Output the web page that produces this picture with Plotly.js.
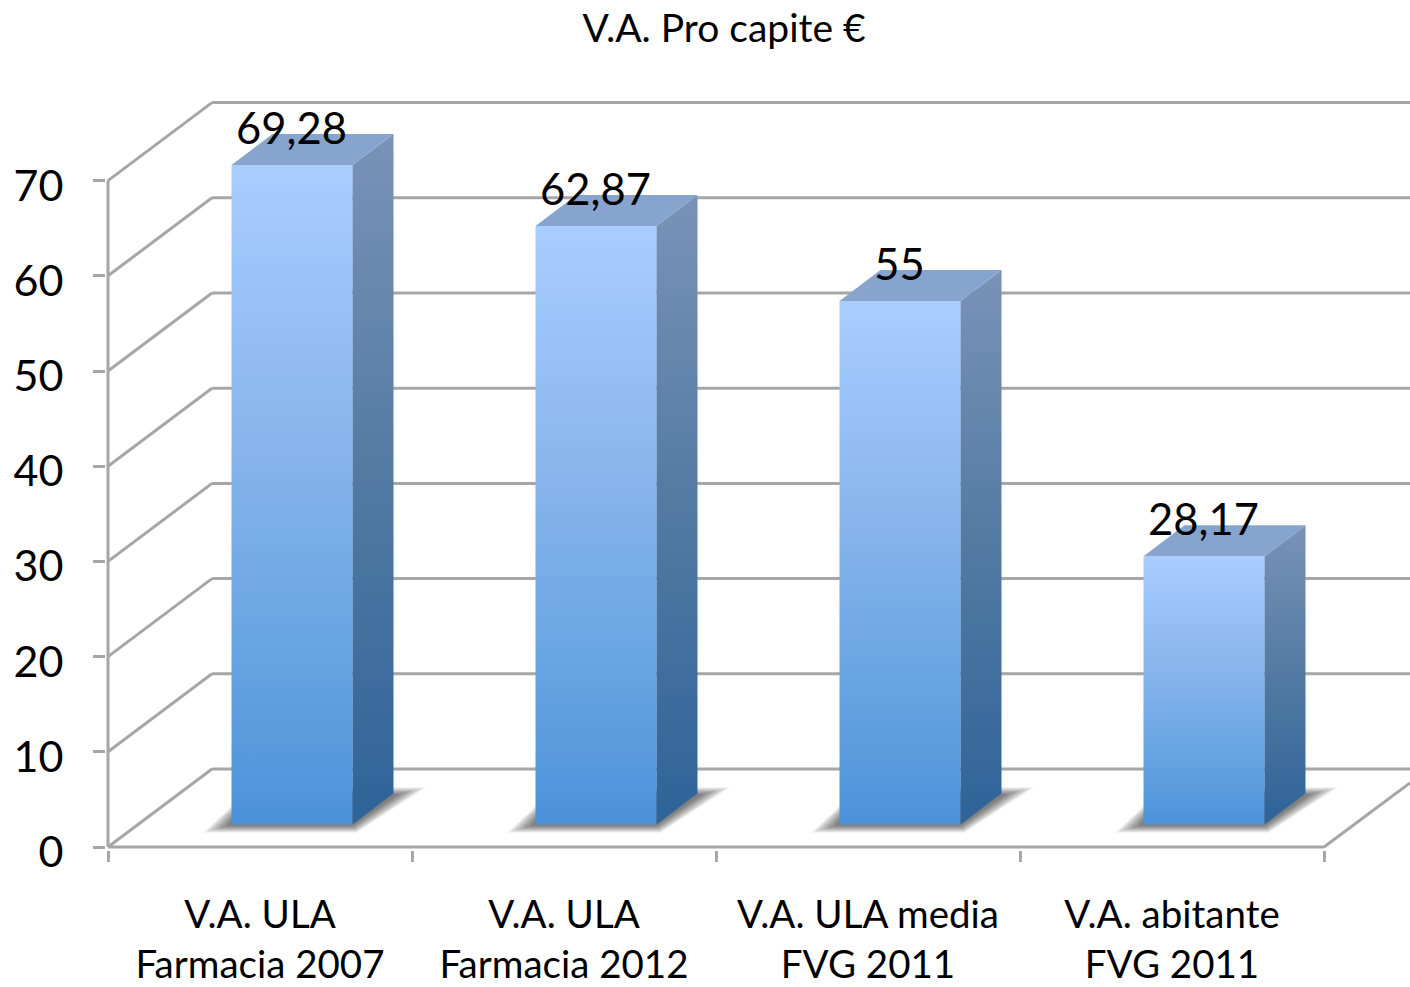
<!DOCTYPE html>
<html><head><meta charset="utf-8">
<script src="https://cdn.plot.ly/plotly-3.0.1.min.js"></script>
<style>html,body{margin:0;padding:0;background:#fff}</style></head>
<body><div id="chart" style="width:1410px;height:987px"></div>
<script>
const categories = ['V.A. ULA<br>Farmacia 2007','V.A. ULA<br>Farmacia 2012','V.A. ULA media<br>FVG 2011','V.A. abitante<br>FVG 2011'];
const values = [69.28, 62.87, 55, 28.17];
const valueLabels = ['69,28','62,87','55','28,17'];
const yTicks = [0,10,20,30,40,50,60,70];

const W=1410,H=987,ML=106,MB=137,MT=90;
const PXX=304, PXY=9.52;            // pixels per axis unit
const ux=p=>p/PXX, uy=p=>p/PXY;
const FONT='Lato, Carlito, Calibri, sans-serif';
const GRID='#a6a6a6';
const xMin=-ux(2), yMin=-uy(3);
const xMax=(W-ML)/PXX+xMin, yMax=(H-MB-MT)/PXY+yMin;
const wallX=ux(104), wallY=uy(78);
const barOff=ux(123.5), barW=ux(121), baseY=uy(22.5), depthX=ux(41), depthY=uy(31);

const traces=[];
function line(xs,ys){traces.push({type:'scatter',mode:'lines',x:xs,y:ys,hoverinfo:'skip',
  line:{color:GRID,width:3,simplify:false}});}
function poly(xs,ys,extra){traces.push(Object.assign({type:'scatter',mode:'lines',x:xs,y:ys,fill:'toself',
  line:{width:0},hoverinfo:'skip'},extra));}

// walls
yTicks.forEach(v=>{
  line([wallX,xMax],[v+wallY,v+wallY]);
  line([0,wallX],[v,v+wallY]);
});
line([0,0],[0,70]);
line([0,categories.length],[0,0]);
line([categories.length,xMax],[0,uy(64)]);

// bars
values.forEach((v,i)=>{
  const L=i+barOff,R=L+barW,T=baseY+v,B=baseY;
  [1,.88,.76,.64,.52,.4,.28,.16].forEach(t=>{
    poly([L-ux(28*t),R+ux(4*t),R+depthX+ux(32*t),L+ux(20)],
         [B-uy(8*t),B-uy(8*t),B+depthY+uy(8*t-2),B+depthY+uy(8*t-2)],
         {fillcolor:'rgba(0,0,0,0.08)'});
  });
  poly([L,R,R,L,L],[B,B,T,T,B],{fillgradient:{type:'vertical',
    colorscale:[[0,'#4c92d9'],[0.25,'#66a3e2'],[0.6,'#8ab6ec'],[1,'#a9cdff']]}});
  poly([R,R+depthX,R+depthX,R,R],[B,B+depthY,T+depthY,T,B],{fillgradient:{type:'vertical',
    colorscale:[[0,'#2e6399'],[0.5,'#527aa3'],[1,'#7a92b8']]}});
  poly([L,R,R+depthX,L+depthX,L],[T,T,T+depthY,T+depthY,T],{fillcolor:'#86a4cd'});
});

// data labels
traces.push({type:'scatter',mode:'text',cliponaxis:false,hoverinfo:'skip',
  x:values.map((v,i)=>i+barOff+barW/2-ux(0.5)),
  y:values.map(v=>v+baseY+uy(10.5)),
  text:valueLabels,textposition:'top center',
  textfont:{family:FONT,size:43.5,color:'#000'}});

Plotly.newPlot('chart',traces,{
  width:W,height:H,showlegend:false,paper_bgcolor:'#fff',plot_bgcolor:'#fff',
  margin:{l:ML,r:0,t:MT,b:MB,pad:0},
  title:{text:'V.A. Pro capite €',font:{family:FONT,size:39,color:'#000'},
    x:724/W,xref:'container',xanchor:'center',y:1-28/H,yref:'container',yanchor:'middle'},
  xaxis:{range:[xMin,xMax],tickmode:'array',tickvals:categories.map((c,i)=>i+0.5),ticktext:categories,
    ticks:'',showgrid:false,zeroline:false,showline:false,fixedrange:true,
    tickfont:{family:FONT,size:38.5,color:'#000'},ticklabelstandoff:38,
    minor:{tickmode:'array',tickvals:[0,1,2,3,4],ticks:'outside',ticklen:11,tickwidth:3,tickcolor:GRID,showgrid:false}},
  yaxis:{range:[yMin,yMax],tickmode:'array',tickvals:yTicks,ticks:'outside',ticklen:12,tickwidth:3,tickcolor:GRID,
    showgrid:false,zeroline:false,showline:false,fixedrange:true,
    tickfont:{family:FONT,size:43,color:'#000'},ticklabelstandoff:21,ticklabelshift:5},
},{displayModeBar:false,staticPlot:true});
</script></body></html>
